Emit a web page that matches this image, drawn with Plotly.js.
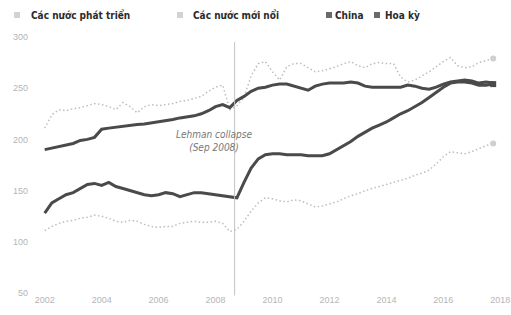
<!DOCTYPE html>
<html><head><meta charset="utf-8">
<script src="https://cdn.plot.ly/plotly-3.0.1.min.js"></script>
<style>html,body{margin:0;padding:0;background:#fff;}#chart{width:511px;height:315px;}</style>
</head><body><div id="chart"></div>
<script>
// Quarterly, 2002Q1 .. 2017Q4 (debt, % of GDP)
const quarters = [];
for (let y = 2002; y <= 2017; y++) { for (let q = 0; q < 4; q++) quarters.push(y + q * 0.25); }

const developed = [211,224,229,228, 230,231,233,235, 234,232,229,236, 232,226,232,234,
  233,234,235,237, 238,240,242,247, 251,253,229,233, 241,262,274,276,
  266,258,271,274, 274,270,266,267, 269,271,274,276, 272,270,274,275,
  274,274,261,256, 258,262,266,271, 276,280,272,270, 271,275,277,279];

const emerging = [111,115,118,120, 121,123,124,126, 125,123,120,119, 121,120,117,115,
  114,115,115,118, 119,120,119,119, 120,118,110,112, 120,130,138,143,
  142,140,139,141, 140,137,134,135, 137,139,142,145, 147,150,152,154,
  156,158,160,162, 165,167,170,176, 183,188,187,186, 188,191,194,196];

const china = [128,138,142,146, 148,152,156,157, 155,158,154,152, 150,148,146,145,
  146,148,147,144, 146,148,148,147, 146,145,144,143, 158,172,181,185,
  186,186,185,185, 185,184,184,184, 186,190,194,198, 203,207,211,214,
  217,221,225,228, 232,236,241,246, 251,255,256,256, 255,253,253,254];

const usa = [190,191.5,193,194, 196,199,200,202, 210,211,212,213, 214,214.5,215,216,
  217,218,219.5,221, 222,223,225,228, 232,234,231,238, 242,247,250,251,
  253,254,254,252, 250,248,252,254, 255,255,255,256, 255,252,251,251,
  251,251,251,253, 252,250,249,251, 254,256,257,258, 257,255,256,255];

const seriesNames = ['Các nước phát triển', 'Các nước mới nổi', 'China', 'Hoa kỳ'];
const tickYears = [2002, 2004, 2006, 2008, 2010, 2012, 2014, 2016, 2018];
const tickValuesY = [50, 100, 150, 200, 250, 300];
const lehmanX = 2008.67;
const lehmanText = 'Lehman collapse<br>(Sep 2008)';

const light = '#bdbdbd', dark = '#4a4a4a';
const last = quarters.length - 1;

function lineTrace(y, name, color, width, dash) {
  return { x: quarters, y: y, name: name, mode: 'lines', type: 'scatter',
    line: { color: color, width: width, dash: dash, shape: 'linear' }, hoverinfo: 'skip' };
}
function endMarker(y, color, symbol, size) {
  return { x: [quarters[last]], y: [y[last]], mode: 'markers', type: 'scatter',
    marker: { color: color, symbol: symbol, size: size }, hoverinfo: 'skip' };
}

const traces = [
  lineTrace(developed, seriesNames[0], light, 1.5, '1.5px,2.5px'),
  lineTrace(emerging, seriesNames[1], light, 1.5, '1.5px,2.5px'),
  lineTrace(usa, seriesNames[3], dark, 3, 'solid'),
  lineTrace(china, seriesNames[2], dark, 3, 'solid'),
  endMarker(developed, '#cfcfcf', 'circle', 6),
  endMarker(emerging, '#cfcfcf', 'circle', 6),
  endMarker(china, dark, 'square', 6),
];

const L = 39, W = 467;
const px = p => (p - L) / W;
const legendFont = { family: '"Liberation Sans Narrow", "DejaVu Sans Condensed", Arial, sans-serif', size: 10, color: '#2b2b2b', weight: 'bold' };
const legendItems = [
  { sq: 17, tx: 29, color: '#d2d2d2', label: seriesNames[0] },
  { sq: 180, tx: 191, color: '#d2d2d2', label: seriesNames[1] },
  { sq: 329, tx: 333, color: '#6a6a6a', label: seriesNames[2] },
  { sq: 377, tx: 383, color: '#6a6a6a', label: seriesNames[3] },
];
const annotations = [];
const shapes = [
  { type: 'line', xref: 'x', yref: 'paper', x0: lehmanX, x1: lehmanX, y0: -0.01, y1: 0.98,
    line: { color: '#c2c2c2', width: 1 } }
];
legendItems.forEach(it => {
  shapes.push({ type: 'rect', xref: 'paper', yref: 'paper', x0: px(it.sq - 3), x1: px(it.sq + 3),
    y0: 1 + (37 - 18) / 256, y1: 1 + (37 - 12) / 256, fillcolor: it.color, line: { width: 0 } });
  annotations.push({ xref: 'paper', yref: 'paper', x: px(it.tx), y: 1 + (37 - 15) / 256,
    xanchor: 'left', yanchor: 'middle', showarrow: false, text: it.label, font: legendFont });
});
annotations.push({ xref: 'x', yref: 'y', x: 2007.95, y: 198, showarrow: false, text: lehmanText,
  font: { family: '"Liberation Sans Narrow", "DejaVu Sans Condensed", Arial, sans-serif', size: 10, color: '#777', style: 'italic' },
  align: 'center' });

const layout = {
  width: 511, height: 315,
  margin: { l: L, r: 511 - L - W, t: 37, b: 22 },
  paper_bgcolor: '#fff', plot_bgcolor: '#fff',
  showlegend: false,
  xaxis: { range: [2001.8, 2018.2], tickvals: tickYears, ticktext: tickYears.map(String),
    showgrid: false, zeroline: false, showline: false, ticks: '',
    tickfont: { family: '"Liberation Sans Narrow", Arial, sans-serif', size: 9, color: '#b5b5b5' } },
  yaxis: { range: [50, 300], tickvals: tickValuesY, showgrid: false, zeroline: false, showline: false, ticks: '',
    ticklabelstandoff: 10,
    tickfont: { family: '"Liberation Sans Narrow", Arial, sans-serif', size: 9, color: '#b5b5b5' } },
  shapes: shapes, annotations: annotations
};
Plotly.newPlot('chart', traces, layout, { staticPlot: true, displayModeBar: false });
</script></body></html>
